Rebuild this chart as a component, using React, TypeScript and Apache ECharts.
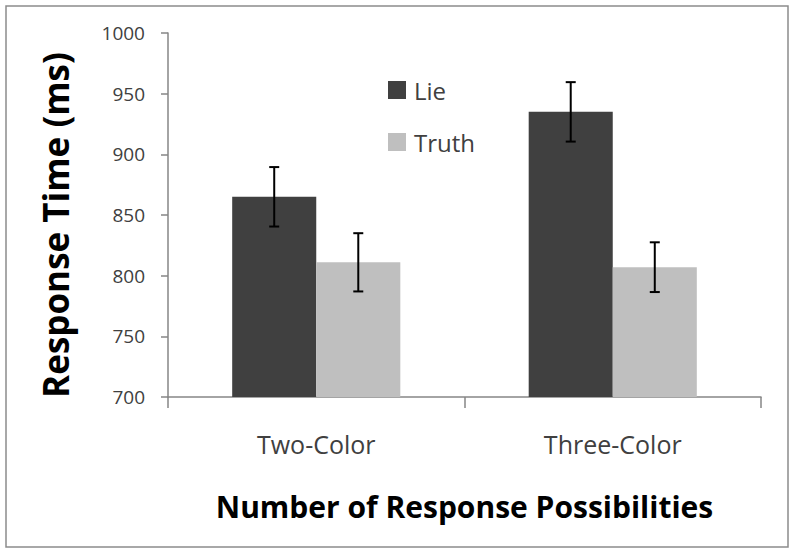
import React, { useEffect, useRef } from "react";
import * as echarts from "echarts";

const categories = ["Two-Color", "Three-Color"];
const lieValues = [865, 935];
const lieErrors = [24.5, 24.5];
const truthValues = [811, 807];
const truthErrors = [24, 20.5];
const yTicks = { min: 700, max: 1000, interval: 50 };

const CAT_GAP = 0.433;

function errorSeries(values: number[], errs: number[], sign: number) {
  return {
    type: "custom",
    silent: true,
    z: 10,
    encode: { x: 0, y: [1, 2] },
    data: values.map((v, i) => [i, v - errs[i], v + errs[i]]),
    renderItem: (params: any, api: any) => {
      const c = api.value(0);
      const lo = api.coord([c, api.value(1)]);
      const hi = api.coord([c, api.value(2)]);
      const band = api.size([1, 0])[0];
      const x = lo[0] + (sign * band * (1 - CAT_GAP)) / 4;
      const cap = 5;
      const st = { stroke: "#000", lineWidth: 2 };
      return {
        type: "group",
        children: [
          { type: "line", shape: { x1: x, y1: lo[1], x2: x, y2: hi[1] }, style: st },
          { type: "line", shape: { x1: x - cap, y1: lo[1], x2: x + cap, y2: lo[1] }, style: st },
          { type: "line", shape: { x1: x - cap, y1: hi[1], x2: x + cap, y2: hi[1] }, style: st },
        ],
      };
    },
  };
}

export default function App() {
  const ref = useRef<HTMLDivElement>(null);
  useEffect(() => {
    if (!ref.current) return;
    const chart = echarts.init(ref.current, undefined, { renderer: "svg" });
    const font = "'Open Sans', sans-serif";
    chart.setOption({
      animation: false,
      backgroundColor: "#ffffff",
      textStyle: { fontFamily: font },
      graphic: [
        {
          type: "rect",
          shape: { x: 6, y: 6, width: 782, height: 541 },
          style: { fill: "none", stroke: "#8c8c8c", lineWidth: 1.5 },
          silent: true,
        },
      ],
      legend: {
        orient: "vertical",
        left: 383,
        top: 73,
        itemWidth: 18,
        itemHeight: 18,
        itemGap: 28,
        icon: "rect",
        data: ["Lie", "Truth"],
        textStyle: { fontFamily: font, fontSize: 24, color: "#404040", lineHeight: 24, padding: [0, 0, 0, 3] },
      },
      grid: { left: 168, right: 35, top: 33, bottom: 158 },
      xAxis: {
        type: "category",
        data: categories,
        name: "Number of Response Possibilities",
        nameLocation: "middle",
        nameGap: 94,
        nameTextStyle: { fontFamily: font, fontSize: 30, fontWeight: "bold", color: "#000" },
        axisLine: { show: true, lineStyle: { color: "#868686", width: 1.5 } },
        axisTick: { show: true, interval: 0, alignWithLabel: false, length: 11, lineStyle: { color: "#868686", width: 1.5 } },
        axisLabel: { fontFamily: font, fontSize: 25, color: "#404040", margin: 34 },
      },
      yAxis: {
        type: "value",
        min: yTicks.min,
        max: yTicks.max,
        interval: yTicks.interval,
        name: "Response Time (ms)",
        nameLocation: "middle",
        nameGap: 95,
        nameRotate: 90,
        nameTextStyle: { fontFamily: font, fontSize: 35, fontWeight: "bold", color: "#000", padding: [0, 20, 0, 0] },
        axisLine: { show: true, lineStyle: { color: "#868686", width: 1.5 } },
        axisTick: { show: true, length: 7, lineStyle: { color: "#868686", width: 1.5 } },
        splitLine: { show: false },
        axisLabel: {
          fontFamily: font,
          fontSize: 19,
          color: "#404040",
          margin: 23,
          formatter: (v: number) => String(v),
        },
      },
      series: [
        {
          name: "Lie",
          type: "bar",
          data: lieValues,
          barGap: "0%",
          barCategoryGap: CAT_GAP * 100 + "%",
          itemStyle: { color: "#404040" },
        },
        {
          name: "Truth",
          type: "bar",
          data: truthValues,
          barGap: "0%",
          barCategoryGap: CAT_GAP * 100 + "%",
          itemStyle: { color: "#bfbfbf" },
        },
        errorSeries(lieValues, lieErrors, -1),
        errorSeries(truthValues, truthErrors, 1),
      ],
    });
    return () => chart.dispose();
  }, []);
  return (
    <div
      ref={ref}
      style={{ position: "fixed", left: 0, top: 0, width: 796, height: 555, background: "#fff" }}
    />
  );
}
